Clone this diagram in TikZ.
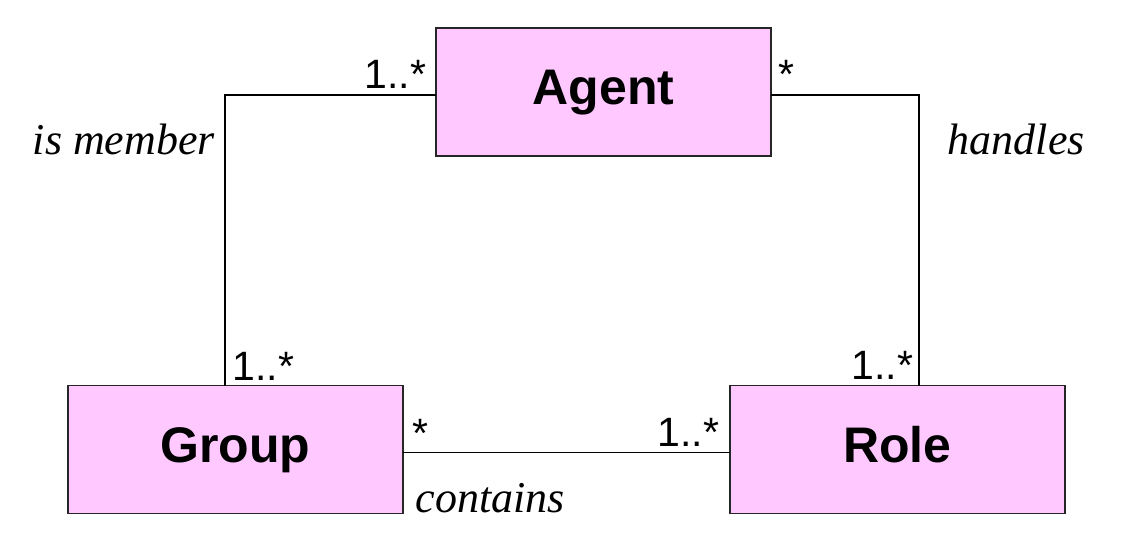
\documentclass[tikz,border=0pt]{standalone}
\usepackage{fontspec}
\setmainfont{Liberation Serif}
\newfontfamily\classfont{Liberation Sans}
\definecolor{classpink}{RGB}{255,200,255}

\begin{document}
\begin{tikzpicture}[x=0.5pt, y=-0.5pt, line width=0.8pt,
  classbox/.style={draw=black!85, fill=classpink, minimum width=167.5pt,
    minimum height=64pt, inner sep=0pt, outer sep=0pt,
    font=\classfont\bfseries\fontsize{25pt}{30pt}\selectfont,
    text height=18.75pt, text depth=6.25pt},
  mult/.style={inner sep=0pt, font=\classfont\fontsize{20.5pt}{24pt}\selectfont},
  role/.style={inner sep=0pt, font=\itshape\fontsize{22pt}{26pt}\selectfont}]

\useasboundingbox (0,0) rectangle (1125,547);

\node[classbox] (agent) at (603.5,92) {Agent};
\node[classbox] (group) at (235.5,449.5) {Group};
\node[classbox] (role) at (897.5,449.5) {Role};

\draw ([yshift=-1.5pt]agent.west) -| ([xshift=-5.25pt]group.north);
\draw ([yshift=-1.5pt]agent.east) -| ([xshift=10.75pt]role.north);
\draw ([yshift=-1.5pt]group.east) -- ([yshift=-1.5pt]role.west);

\node[mult, anchor=base east] (m1) at (427,88) {1..*};
\node[mult, anchor=base west] (m2) at (778,88) {*};
\node[mult, anchor=base west] (m3) at (232,380) {1..*};
\node[mult, anchor=base east] (m4) at (914,379) {1..*};
\node[mult, anchor=base west] (m5) at (412,447) {*};
\node[mult, anchor=base east] (m6) at (720,446) {1..*};

\node[role, anchor=base west] (member) at (32,154) {is member};
\node[role, anchor=base west] (handles) at (947,154) {handles};
\node[role, anchor=base west] (contains) at (415,512) {contains};

\end{tikzpicture}
\end{document}
